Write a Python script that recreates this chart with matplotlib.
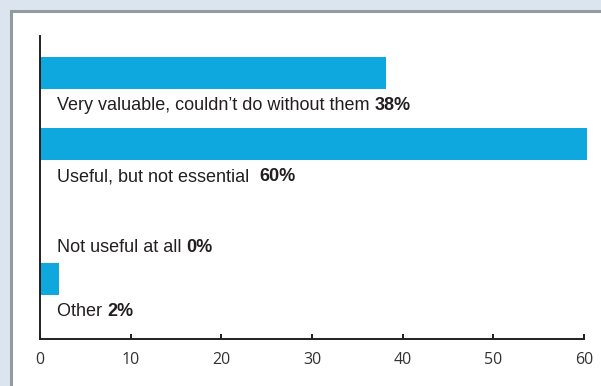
import matplotlib
matplotlib.use("Agg")
import matplotlib.pyplot as plt
from matplotlib.patches import Rectangle

# survey answers
labels = ["Very valuable, couldn\u2019t do without them ", "Useful, but not essential  ",
          "Not useful at all ", "Other "]
pct_text = ["38%", "60%", "0%", "2%"]
values = [38.2, 60.3, 0, 2.1]
ticks = [0, 10, 20, 30, 40, 50, 60]

ypos = [0, 1, 2, 2.9]
bar_col = "#0ea8df"
ink = "#231f20"

fig = plt.figure(figsize=(6.01, 3.86), dpi=100, facecolor="#dce5ef")

# white panel with grey border on top/left
W, H = 601, 386
fig.patches.append(Rectangle((11 / W, -0.1), 1.2, 1.1 - 11 / H, transform=fig.transFigure,
                             facecolor="white", edgecolor="#939c9c", linewidth=2.2, zorder=0))

ax = fig.add_axes([40 / W, 47 / H, 544 / W, 303 / H])
ax.set_zorder(2)
ax.set_facecolor("none")
ax.barh(ypos, values, height=0.45, color=bar_col, zorder=2, clip_on=False)

ax.set_xlim(0, 60)
ax.set_ylim(3.75, -0.52)

for y, lab, p in zip(ypos, labels, pct_text):
    t = ax.text(1.9, y + 0.46, lab, fontsize=13, family="Liberation Sans",
                color=ink, va="center", ha="left")
    ax.annotate(p, xy=(1, 0), xycoords=t, va="bottom", ha="left",
                fontsize=13, family="Liberation Sans", fontweight="bold", color=ink)

ax.spines["top"].set_visible(False)
ax.spines["right"].set_visible(False)
for s in ["left", "bottom"]:
    ax.spines[s].set_linewidth(1.4)
    ax.spines[s].set_color(ink)
ax.set_yticks([])
ax.set_xticks(ticks)
ax.set_xticklabels([str(v) for v in ticks])
ax.tick_params(axis="x", direction="in", length=3.5, width=1.4, color=ink,
               labelsize=11.5, labelcolor="#333333", pad=9)
for lbl in ax.get_xticklabels():
    lbl.set_family("Open Sans")

fig.savefig("out.png", dpi=100, facecolor=fig.get_facecolor())
